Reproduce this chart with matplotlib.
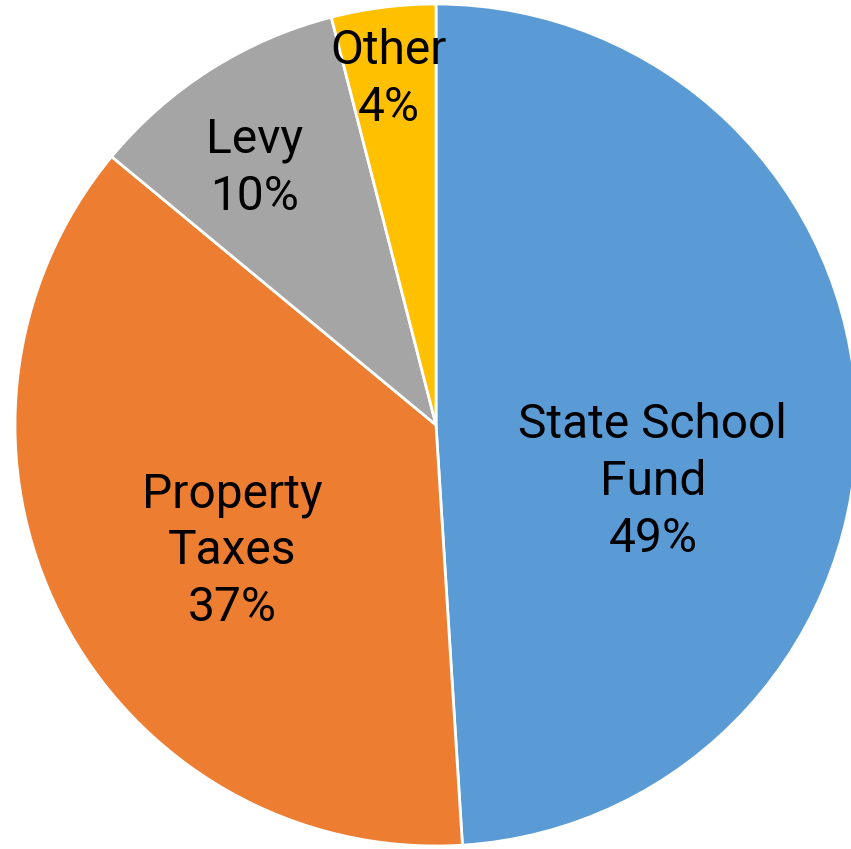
import matplotlib.pyplot as plt

plt.rcParams['font.family'] = ['Roboto', 'DejaVu Sans']

# funding sources, percent of total
sources = ['State School\nFund', 'Property\nTaxes', 'Levy', 'Other']
shares = [49, 37, 10, 4]
colors = ['#5B9BD5', '#ED7D31', '#A5A5A5', '#FFC000']

# where each label sits inside its slice (pie units)
label_xy = [(0.515, -0.135), (-0.485, -0.30), (-0.43, 0.61), (-0.113, 0.82)]

fig = plt.figure(figsize=(8.51, 8.49), dpi=100)
ax = fig.add_axes([0, 0, 1, 1])

r = 421.0
cx, cy = 436.0, 424.0  # pixel centre, measured from bottom-left
ax.pie(shares, colors=colors, startangle=90, counterclock=False, radius=1,
       wedgeprops=dict(edgecolor='white', linewidth=2))

for name, val, (x, y) in zip(sources, shares, label_xy):
    ax.text(x, y, f'{name}\n{val}%', ha='center', va='center',
            fontsize=34.5, color='black', linespacing=1.3)

ax.set_xlim(-cx / r, (851 - cx) / r)
ax.set_ylim(-cy / r, (849 - cy) / r)
ax.set_aspect('auto')
ax.axis('off')

fig.savefig('out.png', dpi=100, facecolor='white')
